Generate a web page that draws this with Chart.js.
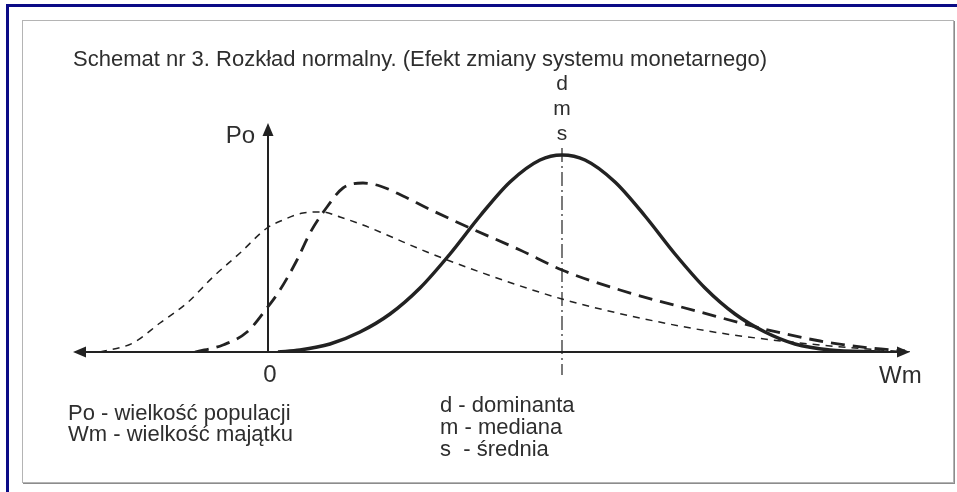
<!DOCTYPE html>
<html lang="pl">
<head>
<meta charset="utf-8">
<title>Schemat nr 3. Rozkład normalny</title>
<script src="https://cdn.jsdelivr.net/npm/chart.js@4.4.1/dist/chart.umd.min.js"></script>
<style>
  html, body { margin: 0; padding: 0; background: #fff; }
  #wrap { position: relative; width: 957px; height: 492px; overflow: hidden; background: #fff; }
  .navy-top  { position: absolute; left: 6px; top: 4px; right: 0; height: 3px; background: #0b0b86; }
  .navy-left { position: absolute; left: 6px; top: 4px; bottom: 0; width: 3px; background: #0b0b86; }
  .frame { position: absolute; left: 22px; top: 20px; width: 930px; height: 461px;
           border: 1px solid #b4b4b4; box-shadow: 1px 1px 0 #8c8c8c; }
  #chart { position: absolute; left: 0; top: 0; }
</style>
</head>
<body>
<div id="wrap">
  <div class="navy-top"></div>
  <div class="navy-left"></div>
  <div class="frame"></div>
  <canvas id="chart" width="957" height="492"></canvas>
</div>
<script>
/* Wm (poziomo) i Po (pionowo) */
const solidX = [1.0, 3.2, 6.2, 9.2, 12.2, 15.2, 18.2, 21.2, 24.2, 27.2, 29.4, 31.7, 34.7, 37.7, 40.7, 43.7, 46.7, 49.7, 52.7, 56.2, 61.2];
const solidY = [0.0, 0.2, 0.8, 2.0, 3.8, 6.4, 9.8, 13.6, 17.0, 19.2, 19.7, 19.2, 17.0, 13.6, 9.8, 6.4, 3.8, 2.0, 0.8, 0.2, 0.0];

const heavyX = [-7.3, -4.5, -2.1, -0.1, 1.2, 2.9, 4.2, 5.9, 7.5, 9.5, 11.2, 13.5, 15.9, 20.2, 25.2, 29.4, 35.2, 43.2, 49.2, 55.2, 60.2, 63.7];
const heavyY = [0.0, 0.7, 2.0, 4.4, 6.2, 9.2, 11.9, 14.5, 16.4, 16.9, 16.6, 15.6, 14.4, 12.4, 10.2, 8.2, 6.2, 4.0, 2.4, 1.1, 0.4, 0.1];

const thinX = [-16.8, -13.5, -10.8, -8.1, -5.5, -2.8, -0.1, 1.5, 3.5, 5.4, 7.2, 9.5, 11.9, 15.9, 21.2, 29.4, 37.2, 45.2, 53.2, 61.2, 64.2];
const thinY = [0.0, 0.9, 2.9, 4.9, 7.5, 9.9, 12.4, 13.2, 13.9, 14.0, 13.5, 12.7, 11.7, 10.0, 8.0, 5.3, 3.4, 1.9, 0.9, 0.2, 0.0];

const markerX = 29.4;            // d = m = s
const xRange = [-20, 65];
const yRange = [0, 30];
const axisXEnds = [-19.5, 64.2];
const axisYTop = 22.9;
const markerSpan = [20.4, -2.3];

const TITLE = "Schemat nr 3. Rozkład normalny. (Efekt zmiany systemu monetarnego)";
const TOP_MARKS = ["d", "m", "s"];
const LEGEND_LEFT = ["Po - wielkość populacji", "Wm - wielkość majątku"];
const LEGEND_MID = ["d - dominanta", "m - mediana", "s  - średnia"];

const INK = "#222";
const TXT = "#2e2e2e";
const FONT = "'Liberation Sans', Arial, sans-serif";

const pts = (xs, ys) => xs.map((v, i) => ({ x: v, y: ys[i] }));

function arrow(ctx, tx, ty, dir) {
  const L = 13, W = 5.5;
  ctx.beginPath();
  ctx.moveTo(tx, ty);
  if (dir === "left")  { ctx.lineTo(tx + L, ty - W); ctx.lineTo(tx + L, ty + W); }
  if (dir === "right") { ctx.lineTo(tx - L, ty - W); ctx.lineTo(tx - L, ty + W); }
  if (dir === "up")    { ctx.lineTo(tx - W, ty + L); ctx.lineTo(tx + W, ty + L); }
  ctx.closePath();
  ctx.fill();
}

const schemat = {
  id: "schemat",
  beforeDatasetsDraw(chart) {
    const { ctx, scales: { x, y } } = chart;
    const x0 = x.getPixelForValue(0), y0 = y.getPixelForValue(0);
    const xl = x.getPixelForValue(axisXEnds[0]), xr = x.getPixelForValue(axisXEnds[1]);
    const yt = y.getPixelForValue(axisYTop);
    ctx.save();
    ctx.strokeStyle = INK; ctx.fillStyle = INK; ctx.lineWidth = 2;
    ctx.beginPath();
    ctx.moveTo(xl + 10, y0); ctx.lineTo(xr - 10, y0);
    ctx.moveTo(x0, y0); ctx.lineTo(x0, yt + 10);
    ctx.stroke();
    arrow(ctx, xl, y0, "left");
    arrow(ctx, xr, y0, "right");
    arrow(ctx, x0, yt, "up");

    // linia d/m/s (kreska-kropka)
    const xm = x.getPixelForValue(markerX);
    ctx.lineWidth = 1.2;
    ctx.setLineDash([14, 4, 2, 4]);
    ctx.beginPath();
    ctx.moveTo(xm, y.getPixelForValue(markerSpan[0]));
    ctx.lineTo(xm, y.getPixelForValue(markerSpan[1]));
    ctx.stroke();
    ctx.restore();
  },
  afterDraw(chart) {
    const { ctx, scales: { x, y } } = chart;
    const x0 = x.getPixelForValue(0), y0 = y.getPixelForValue(0);
    const xm = x.getPixelForValue(markerX);
    ctx.save();
    ctx.fillStyle = TXT;
    ctx.textBaseline = "alphabetic";

    ctx.font = `22px ${FONT}`;
    ctx.textAlign = "left";
    ctx.fillText(TITLE, 73, 66);

    ctx.font = `24px ${FONT}`;
    ctx.textAlign = "right";
    ctx.fillText("Po", x0 - 13, 143);
    ctx.textAlign = "center";
    ctx.fillText("0", x0 + 2, y0 + 30);
    ctx.textAlign = "left";
    ctx.fillText("Wm", 879, y0 + 31);

    ctx.font = `21px ${FONT}`;
    ctx.textAlign = "center";
    TOP_MARKS.forEach((t, i) => ctx.fillText(t, xm, 90 + i * 25));

    ctx.font = `22px ${FONT}`;
    ctx.textAlign = "left";
    LEGEND_LEFT.forEach((t, i) => ctx.fillText(t, 68, 420 + i * 21));
    LEGEND_MID.forEach((t, i) => ctx.fillText(t, 440, 412 + i * 22));
    ctx.restore();
  }
};

const line = (data, width, dash) => ({
  data,
  borderColor: INK,
  borderWidth: width,
  borderDash: dash,
  borderCapStyle: "butt",
  pointRadius: 0,
  fill: false,
  cubicInterpolationMode: "monotone",
});

new Chart(document.getElementById("chart"), {
  type: "line",
  data: {
    datasets: [
      line(pts(thinX, thinY), 1.5, [7, 6]),
      line(pts(heavyX, heavyY), 2.8, [14, 8]),
      line(pts(solidX, solidY), 3.5, []),
    ],
  },
  options: {
    responsive: false,
    animation: false,
    events: [],
    layout: { padding: { left: 68, right: 39, top: 52, bottom: 140 } },
    plugins: { legend: { display: false }, title: { display: false }, tooltip: { enabled: false } },
    scales: {
      x: { type: "linear", min: xRange[0], max: xRange[1], display: false },
      y: { type: "linear", min: yRange[0], max: yRange[1], display: false },
    },
  },
  plugins: [schemat],
});
</script>
</body>
</html>
